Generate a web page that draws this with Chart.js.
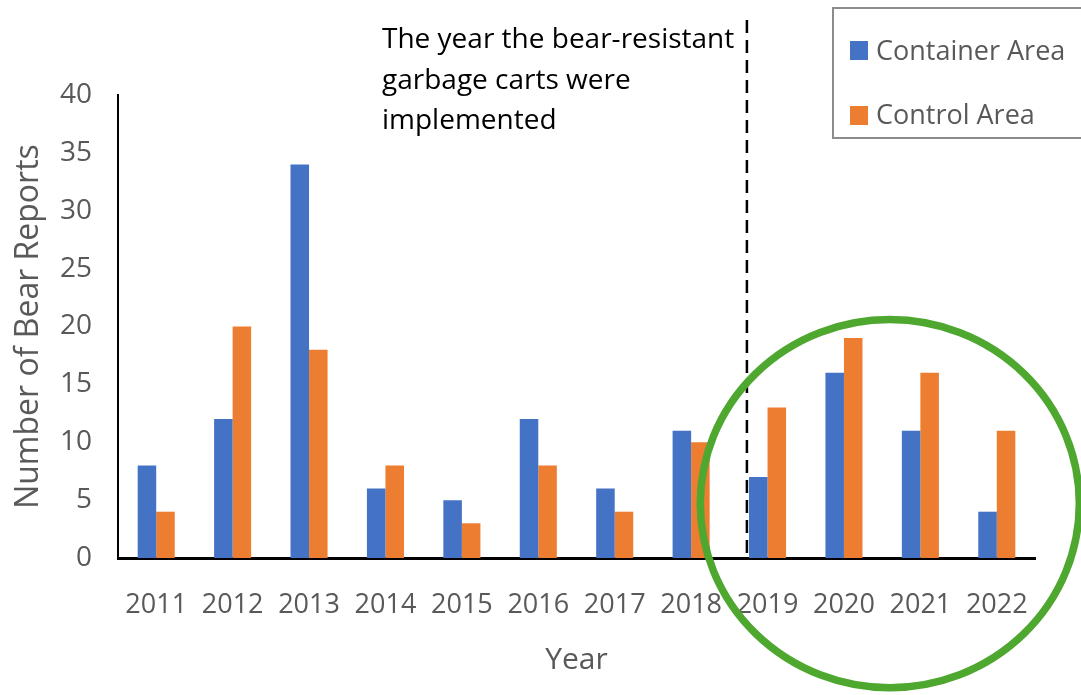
<!DOCTYPE html>
<html>
<head>
<meta charset="utf-8">
<script src="https://cdn.jsdelivr.net/npm/chart.js@4.4.1/dist/chart.umd.min.js"></script>
<style>
  html, body { margin: 0; padding: 0; background: #fff; overflow: hidden; }
  #wrap { position: relative; width: 1081px; height: 695px; }
  #note { position: absolute; left: 382px; top: 17px; font-family: 'Open Sans', sans-serif; font-size: 28px; line-height: 40.5px; color: #000; white-space: nowrap; }
  #legend { position: absolute; left: 832px; top: 7px; width: 270px; height: 132px; border: 2px solid #8c8c8c; box-sizing: border-box; font-family: 'Open Sans', sans-serif; }
  .sw { position: absolute; left: 16px; width: 18px; height: 19px; }
  .lt { position: absolute; left: 42px; font-size: 27px; line-height: 30px; color: #595959; white-space: nowrap; }
</style>
</head>
<body>
<div id="wrap">
  <canvas id="c"></canvas>
  <div id="note">The year the bear-resistant<br>garbage carts were<br>implemented</div>
  <div id="legend"></div>
</div>
<script>
const years = ['2011','2012','2013','2014','2015','2016','2017','2018','2019','2020','2021','2022'];
const containerArea = [8, 12, 34, 6, 5, 12, 6, 11, 7, 16, 11, 4];
const controlArea = [4, 20, 18, 8, 3, 8, 4, 10, 13, 19, 16, 11];
const seriesNames = ['Container Area', 'Control Area'];
const seriesColors = ['#4472C4', '#ED7D31'];
const yTicks = [0, 5, 10, 15, 20, 25, 30, 35, 40];
const implementIndex = 8; // 2019

const overlay = {
  id: 'overlay',
  afterDatasetsDraw(chart) {
    const { ctx, scales: { x, y } } = chart;
    const cw = x.getPixelForValue(1) - x.getPixelForValue(0);
    const lx = x.getPixelForValue(implementIndex) - cw * 0.27;
    ctx.save();
    ctx.strokeStyle = '#000';
    ctx.lineWidth = 2.5;
    ctx.setLineDash([13, 7]);
    ctx.beginPath();
    ctx.moveTo(lx, 20);
    ctx.lineTo(lx, y.getPixelForValue(0));
    ctx.stroke();
    ctx.setLineDash([]);
    const cx = x.getPixelForValue(9) + cw * 0.6;
    const cy = y.getPixelForValue(4.7);
    const rx = cw * 2.48;
    const ry = y.getPixelForValue(0) - y.getPixelForValue(15.9);
    ctx.strokeStyle = '#4EA72E';
    ctx.lineWidth = 7.5;
    ctx.beginPath();
    ctx.ellipse(cx, cy, rx, ry, 0, 0, Math.PI * 2);
    ctx.stroke();
    ctx.restore();
  }
};

const chart = new Chart(document.getElementById('c'), {
  type: 'bar',
  data: {
    labels: years,
    datasets: [
      { label: seriesNames[0], data: containerArea, backgroundColor: seriesColors[0], borderWidth: 0, categoryPercentage: 0.485, barPercentage: 1 },
      { label: seriesNames[1], data: controlArea, backgroundColor: seriesColors[1], borderWidth: 0, categoryPercentage: 0.485, barPercentage: 1 }
    ]
  },
  options: {
    responsive: true,
    maintainAspectRatio: false,
    animation: false,
    layout: { padding: { top: 95, right: 46, left: 0, bottom: 0 } },
    plugins: { legend: { display: false }, tooltip: { enabled: false } },
    scales: {
      x: {
        grid: { display: false, drawTicks: false },
        border: { display: true, color: '#000', width: 3 },
        ticks: { color: '#595959', font: { family: 'Open Sans', size: 27 }, padding: 31, maxRotation: 0, autoSkip: false },
        title: { display: true, text: 'Year', color: '#595959', font: { family: 'Open Sans', size: 30 }, padding: { top: 0, bottom: 17 } },
        afterFit: s => { s.height = 137; }
      },
      y: {
        min: 0, max: 40,
        grid: { display: false, drawTicks: false },
        border: { display: true, color: '#000', width: 2 },
        afterBuildTicks: s => { s.ticks = yTicks.map(v => ({ value: v })); },
        ticks: { color: '#595959', font: { family: 'Open Sans', size: 28 }, padding: 26 },
        title: { display: true, text: 'Number of Bear Reports', color: '#595959', font: { family: 'Open Sans', size: 32 }, padding: { top: 10, bottom: 0 } },
        afterFit: s => { s.width = 118; }
      }
    }
  },
  plugins: [overlay]
});

const legend = document.getElementById('legend');
const tops = [26, 90];
const swTops = [32, 97];
chart.data.datasets.forEach((ds, i) => {
  const sw = document.createElement('div');
  sw.className = 'sw';
  sw.style.top = swTops[i] + 'px';
  sw.style.background = ds.backgroundColor;
  const t = document.createElement('div');
  t.className = 'lt';
  t.style.top = tops[i] + 'px';
  t.textContent = ds.label;
  legend.appendChild(sw);
  legend.appendChild(t);
});
</script>
</body>
</html>
